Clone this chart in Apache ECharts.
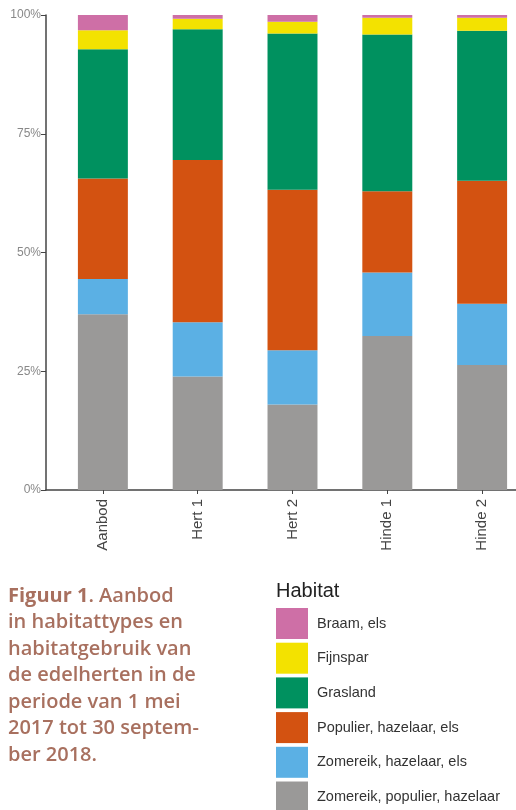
<!DOCTYPE html>
<html><head><meta charset="utf-8">
<script src="https://cdn.jsdelivr.net/npm/echarts@6/dist/echarts.min.js"></script>
<style>html,body{margin:0;padding:0;background:#fff}#c{width:516px;height:810px}</style>
</head><body><div id="c"></div>
<script>
const categories = ['Aanbod', 'Hert 1', 'Hert 2', 'Hinde 1', 'Hinde 2'];
const habitats = ['Zomereik, populier, hazelaar', 'Zomereik, hazelaar, els', 'Populier, hazelaar, els', 'Grasland', 'Fijnspar', 'Braam, els'];
const zomereikPopulierHazelaar = [37.0, 23.9, 18.0, 32.4, 26.3];
const zomereikHazelaarEls = [7.4, 11.4, 11.4, 13.4, 12.9];
const populierHazelaarEls = [21.2, 34.2, 33.8, 17.1, 25.9];
const grasland = [27.2, 27.5, 32.9, 33.0, 31.6];
const fijnspar = [4.0, 2.2, 2.5, 3.5, 2.7];
const braamEls = [3.2, 0.8, 1.4, 0.6, 0.6];
const yTicks = [0, 25, 50, 75, 100];
const colors = ['#9a9998', '#5bb0e4', '#d35211', '#00915f', '#f3e200', '#ce6fa6'];
const values = [zomereikPopulierHazelaar, zomereikHazelaarEls, populierHazelaarEls, grasland, fijnspar, braamEls];
const positions = categories.map((c, i) => i + 1);

// stacked bases computed from the arrays
const bases = values.map((arr, k) => arr.map((v, i) => values.slice(0, k).reduce((s, a) => s + a[i], 0)));

const chart = echarts.init(document.getElementById('c'), null, {renderer: 'canvas'});
const captionLines = ['in habitattypes en', 'habitatgebruik van', 'de edelherten in de', 'periode van 1 mei', '2017 tot 30 septem-', 'ber 2018.'];
chart.setOption({
  animation: false,
  color: colors,
  title: [{
    left: 3, top: 578,
    text: '{b|Figuur 1}{r|. Aanbod}\n' + captionLines.map(l => '{r|' + l + '}').join('\n'),
    textStyle: {
      rich: {
        b: {fontFamily: 'Open Sans', fontWeight: 700, fontSize: 20, color: '#a8705f', lineHeight: 26.5},
        r: {fontFamily: 'Open Sans', fontWeight: 600, fontSize: 20, color: '#a8705f', lineHeight: 26.5}
      }
    }
  }, {
    left: 271, top: 576,
    text: 'Habitat',
    textStyle: {fontFamily: 'Liberation Sans', fontWeight: 'normal', fontSize: 20, color: '#222'}
  }],
  legend: {
    orient: 'vertical', left: 271, top: 603, height: 300,
    data: habitats.slice().reverse(),
    icon: 'rect', itemWidth: 32, itemHeight: 31, itemGap: 3.7,
    textStyle: {fontFamily: 'Liberation Sans', fontSize: 14.5, color: '#333', padding: [0, 0, 0, 4]},
    selectedMode: false
  },
  grid: {left: 46, right: -23, top: 15, bottom: 320, outerBoundsMode: 'none'},
  xAxis: {
    type: 'value', min: 0.4, max: 5.6,
    axisLine: {show: true, lineStyle: {color: '#444', width: 1.5}},
    axisTick: {show: true, length: 4, lineStyle: {color: '#444'}, customValues: positions},
    axisLabel: {
      rotate: 90, margin: 9, fontFamily: 'Liberation Sans', fontSize: 15, color: '#444',
      customValues: positions,
      formatter: v => categories[Math.round(v) - 1] || ''
    },
    splitLine: {show: false}
  },
  yAxis: {
    type: 'value', min: 0, max: 100, interval: 25,
    axisLine: {show: true, lineStyle: {color: '#444', width: 1.5}},
    axisTick: {show: true, length: 5, lineStyle: {color: '#444'}},
    axisLabel: {fontFamily: 'Liberation Sans', fontSize: 12, color: '#888', margin: 5, formatter: '{value}%'},
    splitLine: {show: false}
  },
  series: habitats.map((h, k) => ({
    name: h, type: 'custom',
    itemStyle: {color: colors[k]},
    encode: {x: 0, y: [1, 2]},
    data: values[k].map((v, i) => [positions[i], bases[k][i], bases[k][i] + v]),
    renderItem: (params, api) => {
      const p0 = api.coord([api.value(0), api.value(1)]);
      const p1 = api.coord([api.value(0), api.value(2)]);
      const w = api.size([0.527, 0])[0];
      return {
        type: 'rect',
        shape: {x: p0[0] - w / 2, y: p1[1], width: w, height: p0[1] - p1[1]},
        style: {fill: colors[k]}
      };
    }
  }))
});
</script></body></html>
